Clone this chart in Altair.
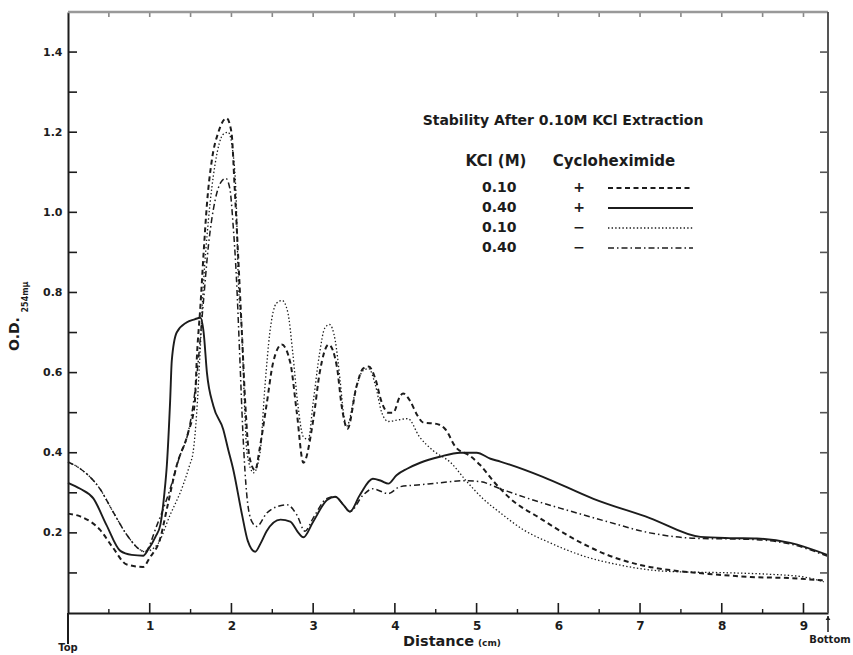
import altair as alt
import pandas as pd

# ---------------- data ----------------
# 0.40 M KCl, + cycloheximide (solid)
solid_d = [0.00, 0.15, 0.31, 0.47, 0.64, 0.78, 0.92, 0.98, 1.07, 1.13, 1.18, 1.21, 1.25, 1.27, 1.33,
           1.45, 1.55, 1.62, 1.66, 1.70, 1.78, 1.90, 1.96, 2.02, 2.13, 2.20, 2.29, 2.36, 2.43, 2.60,
           2.72, 2.82, 2.88, 3.00, 3.17, 3.27, 3.37, 3.45, 3.57, 3.73, 3.83, 3.92, 4.02, 4.15, 4.31,
           4.55, 4.80, 5.00, 5.17, 5.29, 5.81, 6.43, 7.12, 7.74, 8.10, 8.43, 8.84, 9.29]
solid_v = [0.325, 0.31, 0.286, 0.22, 0.155, 0.145, 0.143, 0.158, 0.19, 0.22, 0.30, 0.37, 0.53, 0.63, 0.70,
           0.725, 0.733, 0.737, 0.70, 0.60, 0.516, 0.458, 0.408, 0.36, 0.245, 0.18, 0.153, 0.175, 0.204, 0.233,
           0.228, 0.20, 0.189, 0.228, 0.282, 0.29, 0.27, 0.253, 0.294, 0.335, 0.33, 0.323, 0.344, 0.36, 0.375,
           0.39, 0.40, 0.40, 0.385, 0.378, 0.34, 0.285, 0.237, 0.19, 0.187, 0.186, 0.175, 0.145]

# 0.10 M KCl, + cycloheximide (dashed)
dashed_d = [0.00, 0.15, 0.39, 0.55, 0.72, 0.92, 1.00, 1.13, 1.21, 1.33, 1.47, 1.55, 1.58, 1.62, 1.66,
            1.70, 1.76, 1.84, 1.94, 2.00, 2.04, 2.08, 2.13, 2.17, 2.22, 2.29, 2.35, 2.43, 2.51, 2.615,
            2.72, 2.80, 2.88, 3.00, 3.08, 3.19, 3.29, 3.35, 3.42, 3.53, 3.61, 3.68, 3.76, 3.84, 3.92,
            3.98, 4.06, 4.10, 4.19, 4.27, 4.35, 4.51, 4.62, 4.74, 4.92, 5.04, 5.21, 5.41, 5.78, 6.19,
            6.60, 7.00, 7.41, 7.82, 8.35, 8.84, 9.25]
dashed_v = [0.248, 0.241, 0.208, 0.163, 0.121, 0.115, 0.138, 0.187, 0.26, 0.368, 0.45, 0.522, 0.65, 0.765, 0.90,
            1.02, 1.13, 1.20, 1.235, 1.20, 1.06, 0.90, 0.69, 0.52, 0.39, 0.356, 0.416, 0.52, 0.625, 0.67,
            0.625, 0.50, 0.375, 0.48, 0.60, 0.67, 0.615, 0.515, 0.46, 0.565, 0.61, 0.615, 0.585, 0.525, 0.50,
            0.50, 0.54, 0.548, 0.528, 0.495, 0.475, 0.472, 0.458, 0.415, 0.392, 0.37, 0.328, 0.286, 0.236, 0.185,
            0.145, 0.12, 0.106, 0.098, 0.09, 0.087, 0.081]

# 0.10 M KCl, - cycloheximide (dotted)
dotted_d = [0.00, 0.15, 0.39, 0.55, 0.72, 0.88, 0.94, 1.09, 1.25, 1.41, 1.49, 1.53, 1.575, 1.616, 1.656,
            1.718, 1.80, 1.90, 1.96, 2.02, 2.06, 2.08, 2.13, 2.16, 2.19, 2.27, 2.35, 2.41, 2.47, 2.55,
            2.62, 2.69, 2.75, 2.81, 2.88, 2.94, 3.00, 3.08, 3.14, 3.20, 3.27, 3.33, 3.37, 3.41, 3.53,
            3.61, 3.68, 3.76, 3.84, 3.92, 4.04, 4.16, 4.30, 4.47, 4.68, 4.88, 5.08, 5.29, 5.57, 5.90,
            6.31, 6.72, 7.33, 8.14, 8.55, 9.00, 9.25]
dotted_v = [0.377, 0.36, 0.31, 0.253, 0.195, 0.158, 0.153, 0.17, 0.245, 0.32, 0.37, 0.40, 0.50, 0.65, 0.815,
            0.98, 1.12, 1.195, 1.20, 1.146, 1.02, 0.855, 0.69, 0.52, 0.40, 0.35, 0.40, 0.566, 0.70, 0.773,
            0.78, 0.75, 0.65, 0.525, 0.44, 0.433, 0.525, 0.65, 0.71, 0.72, 0.68, 0.58, 0.50, 0.466, 0.565,
            0.605, 0.61, 0.57, 0.50, 0.478, 0.482, 0.485, 0.44, 0.405, 0.376, 0.328, 0.285, 0.25, 0.208, 0.175,
            0.142, 0.121, 0.104, 0.10, 0.097, 0.09, 0.078]

# 0.40 M KCl, - cycloheximide (dash-dot)
dashdot_d = [0.00, 0.15, 0.39, 0.55, 0.72, 0.88, 0.94, 1.09, 1.25, 1.37, 1.46, 1.50, 1.58, 1.65, 1.72,
             1.80, 1.87, 1.93, 1.98, 2.02, 2.06, 2.10, 2.14, 2.19, 2.25, 2.31, 2.43, 2.55, 2.68, 2.80,
             2.90, 3.00, 3.17, 3.27, 3.37, 3.45, 3.61, 3.73, 3.92, 4.06, 4.31, 4.55, 4.84, 5.04, 5.29,
             5.69, 6.10, 6.60, 7.12, 7.74, 8.10, 8.43, 8.84, 9.29]
dashdot_v = [0.377, 0.36, 0.31, 0.253, 0.195, 0.158, 0.153, 0.22, 0.31, 0.393, 0.442, 0.48, 0.60, 0.76, 0.92,
             1.03, 1.075, 1.085, 1.06, 0.97, 0.84, 0.65, 0.45, 0.29, 0.228, 0.216, 0.249, 0.265, 0.27, 0.245,
             0.204, 0.237, 0.286, 0.29, 0.27, 0.253, 0.294, 0.31, 0.298, 0.315, 0.32, 0.325, 0.33, 0.328, 0.31,
             0.282, 0.257, 0.228, 0.20, 0.186, 0.185, 0.183, 0.172, 0.142]

y_label_values = [0.2, 0.4, 0.6, 0.8, 1.0, 1.2, 1.4]
y_tick_values = [0.1, 0.2, 0.3, 0.4, 0.5, 0.6, 0.7, 0.8, 0.9, 1.0, 1.1, 1.2, 1.3, 1.4]
x_label_values = [1, 2, 3, 4, 5, 6, 7, 8, 9]
x_half_ticks = [0.5, 1.5, 2.5, 3.5, 4.5, 5.5, 6.5, 7.5, 8.5]
top_ticks = [0.5, 1.0, 1.5, 2.0, 2.5, 3.0, 3.5, 4.0, 4.5, 5.0, 5.5, 6.0, 6.5, 7.0, 7.5, 8.0, 8.5, 9.0]

legend_title = "Stability After 0.10M KCl  Extraction"
legend_kcl = ["0.10", "0.40", "0.10", "0.40"]
legend_cyclo = ["+", "+", "\u2212", "\u2212"]

# ---------------- layout / style ----------------
W, H = 760, 601
FONT = "DejaVu Sans"
INK = "#1c1c1c"

frames = []
for name, d, v in [("solid", solid_d, solid_v), ("dashed", dashed_d, dashed_v),
                   ("dotted", dotted_d, dotted_v), ("dashdot", dashdot_d, dashdot_v)]:
    frames.append(pd.DataFrame({"series": name, "distance": d, "od": v, "order": list(range(len(d)))}))
df = pd.concat(frames, ignore_index=True)

xs = alt.Scale(domain=[0, 9.3], nice=False, zero=False)
ys = alt.Scale(domain=[0, 1.5], nice=False, zero=False)

x_axis = alt.Axis(values=x_label_values, ticks=False, grid=False, title=None, domainColor=INK,
                  domainWidth=2, labelFont=FONT, labelFontWeight="bold", labelFontSize=12,
                  labelColor=INK, labelPadding=7)
y_axis = alt.Axis(values=y_label_values, format=".1f", ticks=False, grid=False, title=None,
                  domainColor=INK, domainWidth=2, labelFont=FONT, labelFontWeight="bold",
                  labelFontSize=11, labelColor=INK, labelPadding=6)

X = alt.X("distance:Q", scale=xs, axis=x_axis)
Y = alt.Y("od:Q", scale=ys, axis=y_axis)

styles = {
    "solid": dict(strokeWidth=1.9),
    "dashed": dict(strokeWidth=2.0, strokeDash=[5, 3.5]),
    "dotted": dict(strokeWidth=1.3, strokeDash=[1.4, 2.2]),
    "dashdot": dict(strokeWidth=1.5, strokeDash=[6, 3, 1.5, 3]),
}

layers = []
for name in ["solid", "dashed", "dotted", "dashdot"]:
    layers.append(
        alt.Chart(df).transform_filter(alt.datum.series == name)
        .mark_line(color=INK, interpolate="monotone", **styles[name])
        .encode(x=X, y=Y, order="order:Q")
    )

# inward tick marks
yt = pd.DataFrame({"od": y_tick_values})
layers.append(alt.Chart(yt).mark_rule(color=INK, strokeWidth=1.6).encode(
    y=Y, x=alt.value(0), x2=alt.value(9)))
layers.append(alt.Chart(yt).mark_rule(color="#555", strokeWidth=1.6).encode(
    y=Y, x=alt.value(W - 8), x2=alt.value(W)))
xt = pd.DataFrame({"distance": x_label_values})
layers.append(alt.Chart(xt).mark_rule(color=INK, strokeWidth=1.6).encode(
    x=X, y=alt.value(H - 10), y2=alt.value(H)))
xh = pd.DataFrame({"distance": x_half_ticks})
layers.append(alt.Chart(xh).mark_rule(color=INK, strokeWidth=1.4).encode(
    x=X, y=alt.value(H - 4), y2=alt.value(H)))
tt = pd.DataFrame({"distance": top_ticks})
layers.append(alt.Chart(tt).mark_rule(color="#888", strokeWidth=1.6).encode(
    x=X, y=alt.value(0), y2=alt.value(5)))

one = pd.DataFrame({"a": [0]})
# frame: top and right
layers.append(alt.Chart(one).mark_rule(color="#999", strokeWidth=2.5).encode(
    x=alt.value(0), x2=alt.value(W), y=alt.value(0)))
layers.append(alt.Chart(one).mark_rule(color="#555", strokeWidth=2).encode(
    x=alt.value(W), y=alt.value(0), y2=alt.value(H)))
# left axis extension below the x axis
layers.append(alt.Chart(one).mark_rule(color=INK, strokeWidth=2).encode(
    x=alt.value(0), y=alt.value(H), y2=alt.value(H + 31)))
# bottom arrow
layers.append(alt.Chart(one).mark_rule(color=INK, strokeWidth=1.5).encode(
    x=alt.value(W), y=alt.value(H + 3), y2=alt.value(H + 19)))
layers.append(alt.Chart(one).mark_point(shape="triangle-up", filled=True, color=INK, size=22, opacity=1).encode(
    x=alt.value(W), y=alt.value(H + 5)))


def txt(s, x, y, size, weight="bold", align="center", angle=0):
    kw = dict(font=FONT, fontSize=size, fontWeight=weight, color=INK, align=align, baseline="middle")
    if angle:
        kw["angle"] = angle
    return alt.Chart(one).mark_text(**kw).encode(x=alt.value(x), y=alt.value(y), text=alt.value(s))


layers.append(txt("Top", 0, 636, 10))
layers.append(txt("Bottom", 762, 628, 10))
layers.append(txt("Distance", 335, 630, 14.5, align="left"))
layers.append(txt("(cm)", 410, 631, 9, align="left"))
layers.append(txt("O.D.", -53, 322, 14, angle=270))
layers.append(txt("254m\u03bc", -42, 285, 8, angle=270))

# legend
layers.append(txt(legend_title, 495, 109, 14))
layers.append(txt("KCl (M)", 428, 149, 15))
layers.append(txt("Cycloheximide", 546, 149, 15))
row_y = [176, 196, 216, 236]
row_style = [styles["dashed"], styles["solid"], styles["dotted"], styles["dashdot"]]
for k in range(4):
    layers.append(txt(legend_kcl[k], 414, row_y[k], 14, align="left"))
    layers.append(txt(legend_cyclo[k], 511, row_y[k], 14))
    layers.append(alt.Chart(one).mark_rule(color=INK, **row_style[k]).encode(
        x=alt.value(540), x2=alt.value(625), y=alt.value(row_y[k])))

chart = alt.layer(*layers).properties(
    width=W, height=H,
    autosize=alt.AutoSizeParams(type="none"),
    padding={"left": 68, "top": 12, "right": 25, "bottom": 42},
    background="white",
).configure_view(strokeWidth=0)

chart.save("out.html", embed_options={"renderer": "svg", "actions": False})
